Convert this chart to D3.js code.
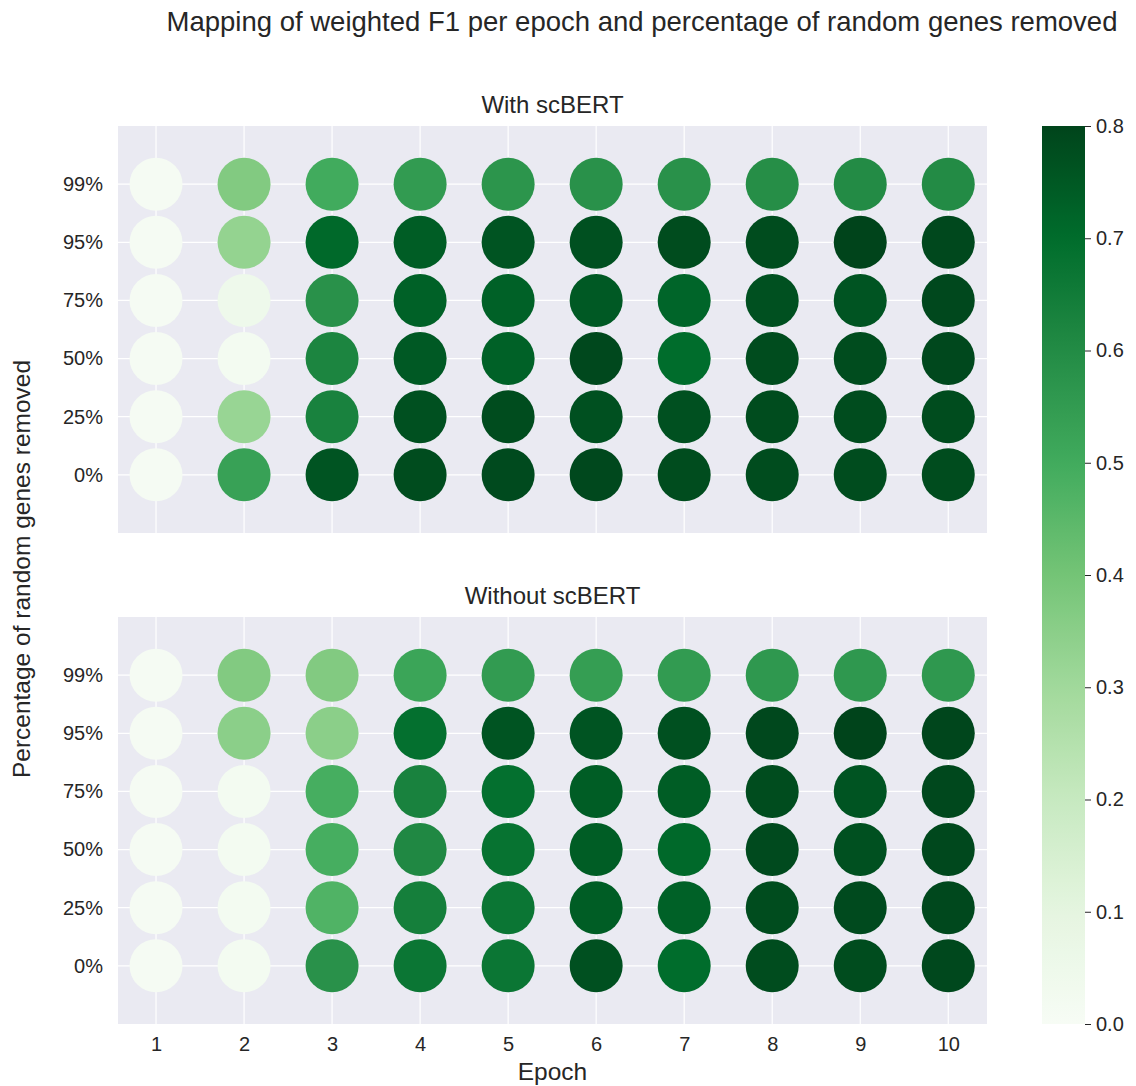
<!DOCTYPE html>
<html>
<head>
<meta charset="utf-8">
<script src="https://cdn.jsdelivr.net/npm/d3@7"></script>
<style>
  html, body { margin: 0; padding: 0; background: #ffffff; }
  svg text { font-family: "Liberation Sans", Arial, sans-serif; fill: #262626; }
</style>
</head>
<body>
<svg id="chart" width="1136" height="1086"></svg>
<script>
// Epochs on the x axis, gene-removal levels on the y axis (bottom to top)
const epochs = [1, 2, 3, 4, 5, 6, 7, 8, 9, 10];
const removedLevels = ["0%", "25%", "50%", "75%", "95%", "99%"];
const panelTitles = ["With scBERT", "Without scBERT"];
const colorbarTicks = [0.0, 0.1, 0.2, 0.3, 0.4, 0.5, 0.6, 0.7, 0.8];

// Weighted F1 per removal level (rows, same order as removedLevels) and epoch (columns)
const f1WithScbert = [
  [0.01, 0.53, 0.76, 0.78, 0.785, 0.79, 0.78, 0.78, 0.78, 0.78],  // 0%
  [0.01, 0.32, 0.63, 0.77, 0.78, 0.77, 0.77, 0.78, 0.78, 0.78],   // 25%
  [0.01, 0.02, 0.62, 0.75, 0.73, 0.79, 0.70, 0.78, 0.78, 0.79],   // 50%
  [0.01, 0.05, 0.58, 0.73, 0.73, 0.75, 0.72, 0.77, 0.76, 0.79],   // 75%
  [0.01, 0.33, 0.71, 0.74, 0.76, 0.77, 0.78, 0.78, 0.80, 0.79],   // 95%
  [0.01, 0.37, 0.50, 0.55, 0.57, 0.58, 0.58, 0.59, 0.60, 0.60]    // 99%
];
const f1WithoutScbert = [
  [0.01, 0.02, 0.58, 0.67, 0.67, 0.77, 0.70, 0.78, 0.78, 0.79],   // 0%
  [0.01, 0.02, 0.47, 0.64, 0.67, 0.74, 0.73, 0.78, 0.785, 0.79],  // 25%
  [0.01, 0.02, 0.49, 0.61, 0.68, 0.74, 0.71, 0.785, 0.77, 0.79],  // 50%
  [0.01, 0.02, 0.49, 0.63, 0.69, 0.74, 0.74, 0.78, 0.76, 0.79],   // 75%
  [0.01, 0.35, 0.35, 0.69, 0.76, 0.76, 0.77, 0.79, 0.80, 0.795],  // 95%
  [0.01, 0.37, 0.37, 0.52, 0.55, 0.54, 0.55, 0.56, 0.56, 0.56]    // 99%
];

const vmin = 0, vmax = 0.8;

// "Greens" sequential ramp, linearly interpolated between its nine anchors
const greensAnchors = ["#f7fcf5", "#e5f5e0", "#c7e9c0", "#a1d99b", "#74c476",
                       "#41ab5d", "#238b45", "#006d2c", "#00441b"];
const color = d3.scaleLinear()
  .domain(greensAnchors.map((_, i) => vmin + (vmax - vmin) * i / (greensAnchors.length - 1)))
  .range(greensAnchors)
  .interpolate(d3.interpolateRgb)
  .clamp(true);

const svg = d3.select("#chart");

const plotLeft = 118, plotRight = 987;
const panels = [
  { top: 126, bottom: 533, data: f1WithScbert, title: panelTitles[0], showX: false },
  { top: 617, bottom: 1024, data: f1WithoutScbert, title: panelTitles[1], showX: true }
];

const x = d3.scaleLinear().domain([0.568, 10.44]).range([plotLeft, plotRight]);
const radius = 26.5;

panels.forEach(p => {
  const y = d3.scaleLinear().domain([-1, 6]).range([p.bottom, p.top]);
  const g = svg.append("g");

  g.append("rect")
    .attr("x", plotLeft).attr("y", p.top)
    .attr("width", plotRight - plotLeft).attr("height", p.bottom - p.top)
    .attr("fill", "#eaeaf2");

  // white grid
  g.append("g").selectAll("line").data(epochs).join("line")
    .attr("x1", d => x(d)).attr("x2", d => x(d))
    .attr("y1", p.top).attr("y2", p.bottom)
    .attr("stroke", "#ffffff").attr("stroke-width", 1.2);
  g.append("g").selectAll("line").data(removedLevels).join("line")
    .attr("x1", plotLeft).attr("x2", plotRight)
    .attr("y1", (d, i) => y(i)).attr("y2", (d, i) => y(i))
    .attr("stroke", "#ffffff").attr("stroke-width", 1.2);

  // y axis (category labels)
  const yAxis = d3.axisLeft(y)
    .tickValues(d3.range(removedLevels.length))
    .tickFormat(i => removedLevels[i])
    .tickSize(0).tickPadding(15);
  const ya = g.append("g").attr("transform", `translate(${plotLeft},0)`).call(yAxis);
  ya.select(".domain").remove();
  ya.selectAll("text").attr("font-size", 20).attr("fill", "#262626");

  // x axis
  const xAxis = d3.axisBottom(x).tickValues(epochs).tickSize(0).tickPadding(13)
    .tickFormat(p.showX ? d3.format("d") : () => "");
  const xa = g.append("g").attr("transform", `translate(0,${p.bottom})`).call(xAxis);
  xa.select(".domain").remove();
  xa.selectAll("text").attr("font-size", 20).attr("fill", "#262626");

  // dots
  const cells = [];
  p.data.forEach((row, ri) => row.forEach((v, ci) => cells.push({ ri, ci, v })));
  g.append("g").selectAll("circle").data(cells).join("circle")
    .attr("cx", d => x(epochs[d.ci]))
    .attr("cy", d => y(d.ri))
    .attr("r", radius)
    .attr("fill", d => color(d.v));

  // panel title
  svg.append("text")
    .attr("x", (plotLeft + plotRight) / 2).attr("y", p.top - 13)
    .attr("text-anchor", "middle").attr("font-size", 24)
    .text(p.title);
});

// figure title
svg.append("text")
  .attr("x", 642).attr("y", 31)
  .attr("text-anchor", "middle").attr("font-size", 27.5)
  .text("Mapping of weighted F1 per epoch and percentage of random genes removed");

// axis labels
svg.append("text")
  .attr("x", (plotLeft + plotRight) / 2).attr("y", 1080)
  .attr("text-anchor", "middle").attr("font-size", 24.5)
  .text("Epoch");
svg.append("text")
  .attr("transform", `translate(30,569) rotate(-90)`)
  .attr("text-anchor", "middle").attr("font-size", 24.5)
  .text("Percentage of random genes removed");

// colorbar
const cbLeft = 1042, cbRight = 1085, cbTop = 126, cbBottom = 1024;
const cbScale = d3.scaleLinear().domain([vmin, vmax]).range([cbBottom, cbTop]);
const defs = svg.append("defs");
const grad = defs.append("linearGradient")
  .attr("id", "cbGrad").attr("x1", 0).attr("y1", 1).attr("x2", 0).attr("y2", 0);
d3.range(0, 1.0001, 0.02).forEach(t => {
  grad.append("stop").attr("offset", t).attr("stop-color", color(vmin + t * (vmax - vmin)));
});
svg.append("rect")
  .attr("x", cbLeft).attr("y", cbTop)
  .attr("width", cbRight - cbLeft).attr("height", cbBottom - cbTop)
  .attr("fill", "url(#cbGrad)");
const cbAxis = d3.axisRight(cbScale).tickValues(colorbarTicks)
  .tickFormat(d3.format(".1f")).tickSize(6).tickPadding(5);
const cba = svg.append("g").attr("transform", `translate(${cbRight},0)`).call(cbAxis);
cba.select(".domain").remove();
cba.selectAll("line").attr("stroke", "#262626").attr("stroke-width", 1);
cba.selectAll("text").attr("font-size", 20).attr("fill", "#262626");
</script>
</body>
</html>
